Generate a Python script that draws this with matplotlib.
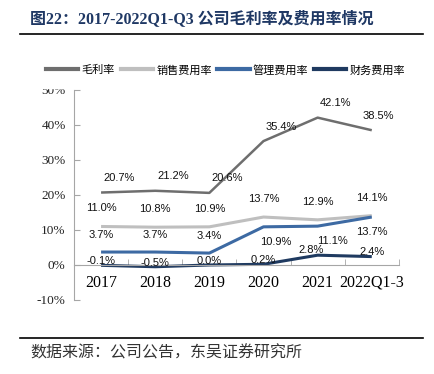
import matplotlib.pyplot as plt
from matplotlib.lines import Line2D
from matplotlib.patches import Rectangle
import numpy as np

plt.rcParams['font.family'] = ['Liberation Serif', 'Noto Sans CJK SC']

# ==========================
# DADOS
# ==========================
years = ['2017', '2018', '2019', '2020', '2021', '2022Q1-3']
gross = [20.7, 21.2, 20.6, 35.4, 42.1, 38.5]     # 毛利率
sales = [11.0, 10.8, 10.9, 13.7, 12.9, 14.1]     # 销售费用率
admin = [3.7, 3.7, 3.4, 10.9, 11.1, 13.7]        # 管理费用率
finance = [-0.1, -0.5, 0.0, 0.2, 2.8, 2.4]       # 财务费用率
names = ['毛利率', '销售费用率', '管理费用率', '财务费用率']

# label offsets (points)
off_gross = [(13, 10.5)] * 5 + [(5, 10.5)]
off_sales = [(0, 13)] * 6
off_admin = [(0, 12.5)] * 3 + [(9, -11), (11, -11), (0, -11)]
off_fin = [(0, 3)] * 4 + [(-5, 3.5), (0, 3.5)]

colors = ['#6e6e6e', '#bfbfbf', '#3d6aa3', '#1f3a60']
widths = [1.8, 2.2, 2.2, 2.2]

fig = plt.figure(figsize=(4.34, 3.74), dpi=100)
ax = fig.add_axes([0.1705, 0.1979, 0.7485, 0.5615])

x = np.arange(len(years))
series = [gross, sales, admin, finance]
offsets = [off_gross, off_sales, off_admin, off_fin]
for s, c, w, offs in zip(series, colors, widths, offsets):
    ax.plot(x, s, color=c, lw=w, solid_capstyle='butt')
    for xi, v, o in zip(x, s, offs):
        ax.annotate(f'{v:.1f}%', (xi, v), xytext=o, textcoords='offset points',
                    ha='center', va='center', fontsize=8,
                    family='Liberation Sans', color='#111111', zorder=5)

ax.set_xlim(-0.5, 5.5)
ax.set_ylim(-10, 50)
ax.set_yticks(np.arange(-10, 51, 10))
ax.set_yticklabels([f'{t}%' for t in range(-10, 51, 10)])
ax.set_xticks(x)
ax.set_xticklabels(years)
ax.set_xticks(np.arange(-0.5, 5.6, 1), minor=True)
ax.tick_params(axis='x', which='major', length=0, pad=7, labelsize=11.5)
ax.tick_params(axis='x', which='minor', direction='in', length=4, color='#a6a6a6')
ax.tick_params(axis='y', direction='in', length=4, color='#a6a6a6', pad=6,
               labelsize=9.5, labelcolor='#222222')

for sp in ['top', 'right']:
    ax.spines[sp].set_visible(False)
ax.spines['bottom'].set_position(('data', 0))
ax.spines['bottom'].set_color('#a6a6a6')
ax.spines['left'].set_color('#a6a6a6')

# cover top of 50% label
fig.add_artist(Rectangle((0, 0.765), 0.165, 0.05, transform=fig.transFigure,
                         color='white', zorder=4))

handles = [Line2D([], [], color=c, lw=3) for c in colors]
fig.legend(handles, names, loc='center', bbox_to_anchor=(0.52, 0.813), ncol=4,
           frameon=False, prop={'family': 'Noto Sans CJK SC', 'size': 8},
           handlelength=2.9, handletextpad=0.3, columnspacing=0.5)

fig.text(0.069, 0.949, '图22：2017-2022Q1-Q3 公司毛利率及费用率情况',
         fontweight='bold', fontsize=11.5, color='#1f3864', va='center')
fig.add_artist(Line2D([0.046, 0.975], [0.909, 0.909], transform=fig.transFigure,
                      color='black', lw=1.2))
fig.add_artist(Line2D([0.046, 0.975], [0.096, 0.096], transform=fig.transFigure,
                      color='black', lw=1.2))
fig.text(0.069, 0.056, '数据来源：公司公告，东吴证券研究所',
         family='Noto Sans CJK SC', fontsize=11.5, color='#333333', va='center')

fig.savefig('out.png', dpi=100)
